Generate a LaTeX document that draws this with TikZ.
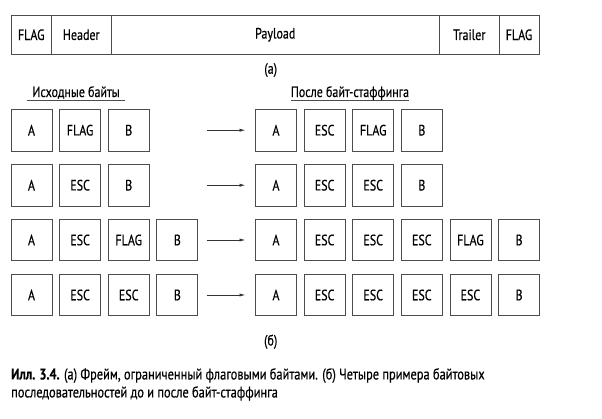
\documentclass[tikz,border=0pt]{standalone}
\usepackage{fontspec}
\setmainfont{PT Sans}[FakeStretch=0.8, FakeBold=0.4]
\usetikzlibrary{positioning,arrows.meta}

\tikzset{
  field/.style={draw=black!70, line width=0.75pt, outer sep=0pt, inner sep=0pt,
    minimum height=39.5pt, font=\fontsize{15}{17}\selectfont},
  byte/.style={draw=black!70, line width=0.75pt, outer sep=0pt, inner sep=0pt,
    minimum width=41pt, minimum height=41.5pt, font=\fontsize{15}{17}\selectfont},
  hdr/.style={inner xsep=0pt, inner ysep=3.5pt, text depth=0pt, anchor=base,
    font=\fontsize{15}{17}\selectfont},
  rule/.style={draw=black!70, line width=0.75pt},
  arr/.style={-{Latex[length=6pt,width=3.2pt]}, line width=0.8pt, black!80},
  lbl/.style={font=\fontsize{15}{17}\selectfont}
}

\begin{document}
\begin{tikzpicture}[x=1pt,y=-1pt]
\useasboundingbox (0,0) rectangle (602,418);

% frame
\node[field, minimum width=40.5pt] (f1) at (31.25,34.75) {FLAG};
\node[field, minimum width=59.5pt, right = 0pt of f1] (f2) {Header};
\node[field, minimum width=328.5pt, right = 0pt of f2] (f3) {Payload};
\node[field, minimum width=59.5pt, right = 0pt of f3] (f4) {Trailer};
\node[field, minimum width=40pt, right = 0pt of f4] (f5) {FLAG};
\node[lbl] (capa) at (270.7,70) {(а)};

% headers
\node[hdr, minimum width=98.3pt] (hdrL) at (76,97) {Исходные байты};
\node[hdr, minimum width=116.6pt] (hdrR) at (350,97) {После байт-стаффинга};
\draw[rule] (hdrL.south west) -- (hdrL.south east);
\draw[rule] (hdrR.south west) -- (hdrR.south east);

% row 1
\node[byte] (l1a) at (31.5,130.2) {A};
\node[byte, right = 7.6pt of l1a] (l1b) {FLAG};
\node[byte, right = 7.6pt of l1b] (l1c) {B};
\node[byte] (r1a) at (276,130.2) {A};
\node[byte, right = 7.6pt of r1a] (r1b) {ESC};
\node[byte, right = 7.6pt of r1b] (r1c) {FLAG};
\node[byte, right = 7.6pt of r1c] (r1d) {B};

% row 2
\node[byte] (l2a) at (31.5,185.2) {A};
\node[byte, right = 7.6pt of l2a] (l2b) {ESC};
\node[byte, right = 7.6pt of l2b] (l2c) {B};
\node[byte] (r2a) at (276,185.2) {A};
\node[byte, right = 7.6pt of r2a] (r2b) {ESC};
\node[byte, right = 7.6pt of r2b] (r2c) {ESC};
\node[byte, right = 7.6pt of r2c] (r2d) {B};

% row 3
\node[byte] (l3a) at (31.5,240) {A};
\node[byte, right = 7.6pt of l3a] (l3b) {ESC};
\node[byte, right = 7.6pt of l3b] (l3c) {FLAG};
\node[byte, right = 7.6pt of l3c] (l3d) {B};
\node[byte] (r3a) at (276,240) {A};
\node[byte, right = 7.6pt of r3a] (r3b) {ESC};
\node[byte, right = 7.6pt of r3b] (r3c) {ESC};
\node[byte, right = 7.6pt of r3c] (r3d) {ESC};
\node[byte, right = 7.6pt of r3d] (r3e) {FLAG};
\node[byte, right = 7.6pt of r3e] (r3f) {B};

% row 4
\node[byte] (l4a) at (31.5,295) {A};
\node[byte, right = 7.6pt of l4a] (l4b) {ESC};
\node[byte, right = 7.6pt of l4b] (l4c) {ESC};
\node[byte, right = 7.6pt of l4c] (l4d) {B};
\node[byte] (r4a) at (276,295) {A};
\node[byte, right = 7.6pt of r4a] (r4b) {ESC};
\node[byte, right = 7.6pt of r4b] (r4c) {ESC};
\node[byte, right = 7.6pt of r4c] (r4d) {ESC};
\node[byte, right = 7.6pt of r4d] (r4e) {ESC};
\node[byte, right = 7.6pt of r4e] (r4f) {B};

\draw[arr] ([xshift=-49pt]r1a.west) -- ([xshift=-10pt]r1a.west);
\draw[arr] ([xshift=-49pt]r2a.west) -- ([xshift=-10pt]r2a.west);
\draw[arr] ([xshift=-49pt]r3a.west) -- ([xshift=-10pt]r3a.west);
\draw[arr] ([xshift=-49pt]r4a.west) -- ([xshift=-10pt]r4a.west);

\node[lbl] (capb) at (270.7,341.7) {(б)};

% caption
\node[anchor=north west, align=left, inner sep=0pt,
  font=\fontsize{15.5}{18}\selectfont] (cap) at (11,368)
  {\textbf{Илл. 3.4.} (а) Фрейм, ограниченный флаговыми байтами. (б) Четыре примера байтовых\\
   последовательностей до и после байт-стаффинга};
\end{tikzpicture}
\end{document}
